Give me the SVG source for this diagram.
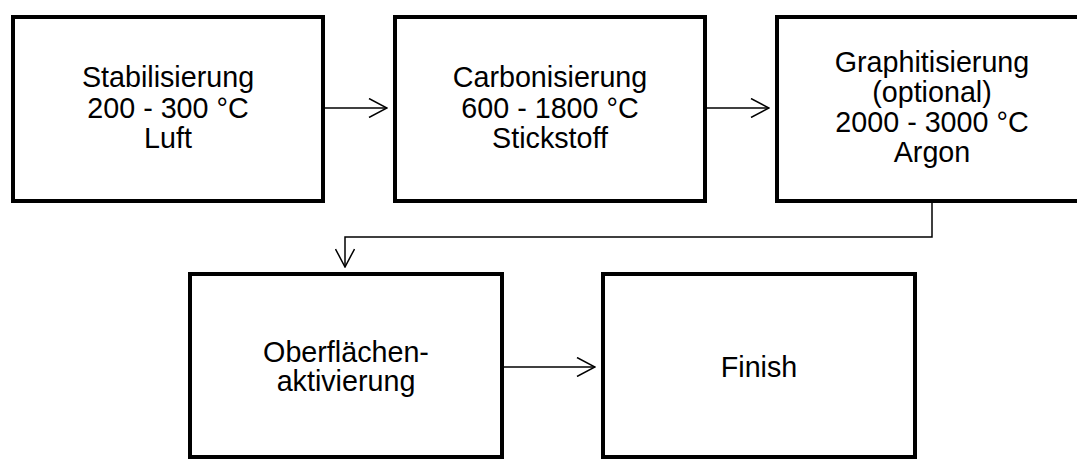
<svg xmlns="http://www.w3.org/2000/svg" width="1077" height="459" viewBox="0 0 1077 459">
<style>
.box{fill:#fff;stroke:#000;stroke-width:4}
.t{font-family:"Liberation Sans",Arial,sans-serif;font-size:28.7px;fill:#000;text-anchor:middle}
.c{fill:none;stroke:#000;stroke-width:1.5}
</style>
<defs>
<marker id="ah" viewBox="0 0 20 20" refX="19" refY="10" markerWidth="20" markerHeight="20" markerUnits="userSpaceOnUse" orient="auto">
<path d="M1,0.5 L19,10 L1,19.5" fill="none" stroke="#000" stroke-width="1.5"/>
</marker>
</defs>
<rect width="1077" height="459" fill="#fff"/>
<g id="n1"><rect class="box" x="13" y="17" width="310" height="184"/>
<text class="t" x="168" y="87">Stabilisierung</text><text class="t" x="168" y="118">200 - 300 °C</text><text class="t" x="168" y="148">Luft</text></g>
<g id="n2"><rect class="box" x="395" y="17" width="310" height="184"/>
<text class="t" x="550" y="87">Carbonisierung</text><text class="t" x="550" y="118">600 - 1800 °C</text><text class="t" x="550" y="148">Stickstoff</text></g>
<g id="n3"><rect class="box" x="777" y="17" width="310" height="184"/>
<text class="t" x="932" y="72">Graphitisierung</text><text class="t" x="932" y="102">(optional)</text><text class="t" x="932" y="132">2000 - 3000 °C</text><text class="t" x="932" y="162">Argon</text></g>
<g id="n4"><rect class="box" x="190" y="274" width="312" height="183"/>
<text class="t" x="346" y="362">Oberflächen-</text><text class="t" x="346" y="391">aktivierung</text></g>
<g id="n5"><rect class="box" x="603" y="274" width="312" height="183"/>
<text class="t" x="759" y="377">Finish</text></g>
<g id="connectors">
<path class="c" d="M325,108 L387,108" marker-end="url(#ah)"/>
<path class="c" d="M707,108 L769,108" marker-end="url(#ah)"/>
<path class="c" d="M932,203 L932,237 L345,237 L345,267" marker-end="url(#ah)"/>
<path class="c" d="M504,367 L595,367" marker-end="url(#ah)"/>
</g>
</svg>
